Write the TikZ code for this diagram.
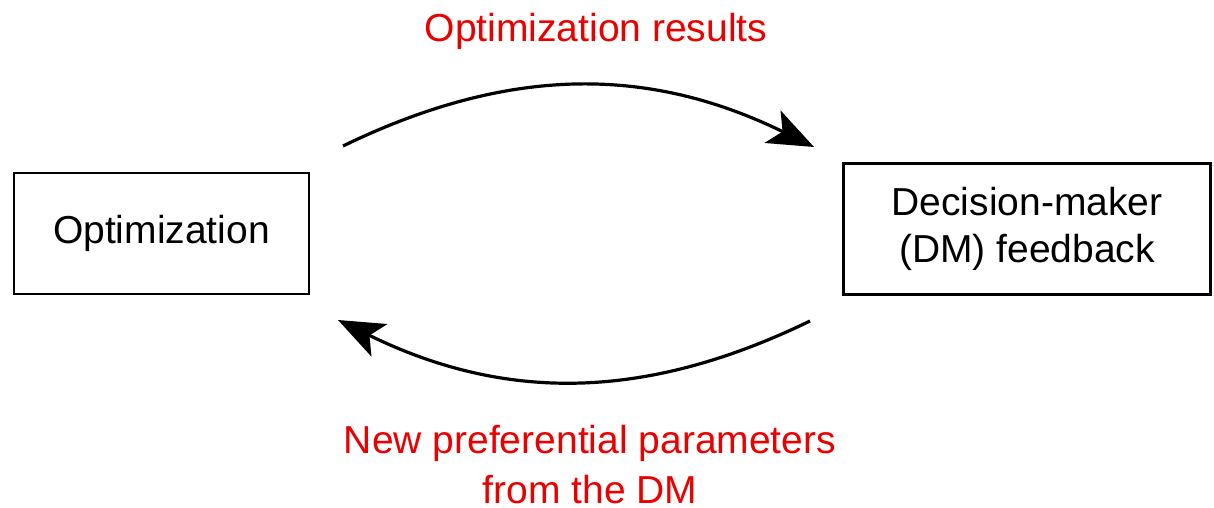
\documentclass[tikz,border=0pt]{standalone}
\usepackage{fontspec}
\setmainfont{Liberation Sans}
\usetikzlibrary{arrows.meta}
\definecolor{lblred}{RGB}{235,0,0}
\tikzset{
  box/.style={draw=black, line width=2.8pt, minimum width=295pt, minimum height=121pt, inner sep=0pt, align=center, font=\fontsize{39}{47}\selectfont},
  lbl/.style={text=lblred, align=center, font=\fontsize{39}{50}\selectfont},
  flow/.style={line width=3.2pt, -{Stealth[length=46pt, width=36pt, inset=11pt]}}
}
\begin{document}
\begin{tikzpicture}[x=1pt,y=-1pt]
\useasboundingbox (0,0) rectangle (1214,508);
\node[box] (opt) at (161.5,233.5) {Optimization};
\node[box, minimum width=367pt, minimum height=131pt] (dm) at (1027,229) {Decision-maker\\(DM) feedback};
\coordinate (a1) at (343,146);
\coordinate (a2) at (814,147);
\coordinate (b1) at (810,321);
\coordinate (b2) at (338,320);
\draw[flow] (a1) to[bend left=26] (a2);
\draw[flow] (b1) to[bend left=26] (b2);
\node[lbl] (t1) at (596,31) {Optimization results};
\node[lbl] (t2) at (590,465) {New preferential parameters\\from the DM};
\end{tikzpicture}
\end{document}
